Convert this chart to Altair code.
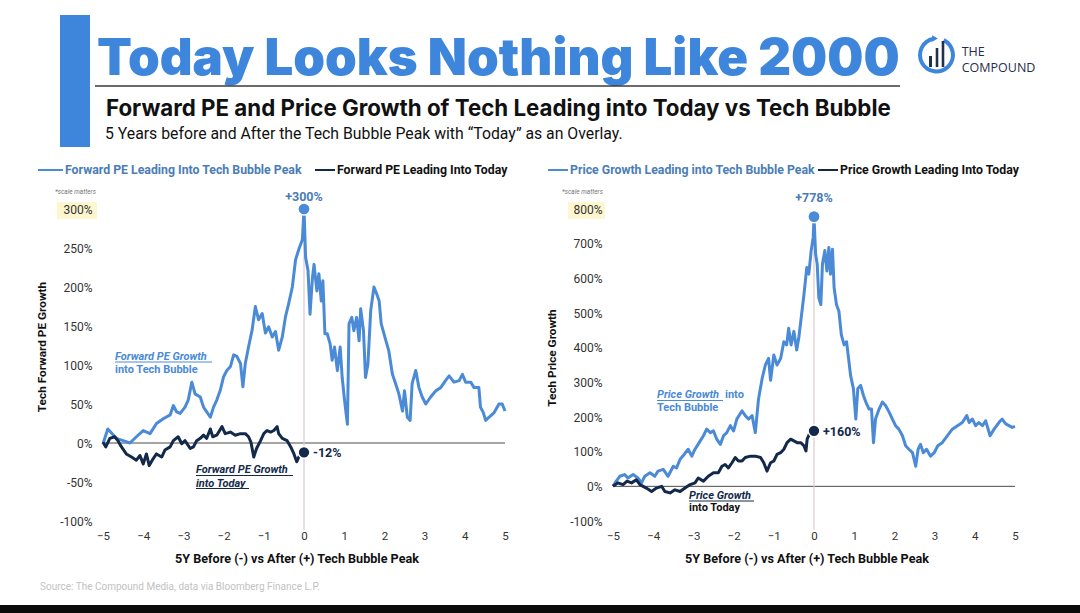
import altair as alt
import pandas as pd

# Years relative to the tech bubble peak (0) and growth in percent.
PE_BUBBLE_T = [-5.0, -4.88, -4.67, -4.5, -4.33, -4.17, -4.0, -3.83, -3.67, -3.5,
               -3.33, -3.25, -3.17, -3.08, -2.96, -2.88, -2.79, -2.71, -2.58, -2.5,
               -2.42, -2.33, -2.25, -2.17, -2.08, -2.0, -1.92, -1.83, -1.75, -1.67,
               -1.58, -1.52, -1.46, -1.38, -1.29, -1.21, -1.13, -1.04, -0.96, -0.88,
               -0.79, -0.71, -0.63, -0.54, -0.46, -0.38, -0.29, -0.21, -0.13, -0.04, 0.0,
               0.04, 0.10, 0.15, 0.21, 0.25, 0.32, 0.37, 0.43, 0.47, 0.52,
               0.58, 0.65, 0.70, 0.76, 0.83, 0.90, 0.95, 1.01, 1.08, 1.12,
               1.19, 1.24, 1.31, 1.37, 1.41, 1.48, 1.53, 1.59, 1.66, 1.74,
               1.81, 1.87, 1.92, 1.99, 2.06, 2.11, 2.20, 2.28, 2.36, 2.45,
               2.50, 2.57, 2.64, 2.69, 2.78, 2.86, 2.94, 3.03, 3.15, 3.28,
               3.40, 3.52, 3.61, 3.73, 3.86, 3.94, 4.02, 4.15, 4.23, 4.35,
               4.39, 4.46, 4.52, 4.60, 4.73, 4.85, 4.93, 5.0]
PE_BUBBLE_V = [-1, 18, 6, 3, 0, 8, 16, 12, 25, 31,
               36, 48, 40, 38, 46, 55, 78, 63, 59, 46,
               40, 33, 46, 55, 68, 85, 93, 98, 113, 111,
               102, 72, 102, 123, 145, 175, 158, 166, 141, 149,
               136, 143, 119, 136, 162, 179, 200, 235, 248, 261, 300,
               238, 221, 165, 212, 229, 195, 217, 182, 208, 140,
               140, 127, 106, 123, 93, 123, 84, 54, 24, 153,
               161, 144, 161, 131, 172, 144, 84, 101, 170, 200,
               191, 182, 153, 140, 127, 118, 88, 76, 63, 41,
               67, 33, 29, 76, 93, 71, 59, 50, 59, 67,
               71, 80, 86, 78, 80, 88, 78, 78, 71, 71,
               46, 39, 29, 33, 39, 50, 50, 41]

PE_TODAY_T = [-5.0, -4.93, -4.83, -4.71, -4.63, -4.54, -4.42, -4.29, -4.17, -4.08,
              -4.0, -3.92, -3.85, -3.75, -3.67, -3.54, -3.46, -3.33, -3.25, -3.13,
              -3.04, -2.96, -2.83, -2.75, -2.67, -2.58, -2.5, -2.42, -2.33, -2.27,
              -2.17, -2.04, -1.96, -1.83, -1.71, -1.58, -1.46, -1.38, -1.32, -1.25,
              -1.18, -1.08, -1.0, -0.92, -0.83, -0.75, -0.67, -0.63, -0.54, -0.42,
              -0.33, -0.25, -0.18, -0.13, -0.07, 0.0]
PE_TODAY_V = [1, -5, 6, 8, 3, -5, -14, -18, -22, -16,
              -27, -14, -29, -20, -14, -18, -9, -5, 3, 8,
              -1, 3, -7, -5, 3, 6, 10, 6, 18, 8,
              10, 21, 12, 14, 10, 12, 12, 8, 1, -18,
              -7, 3, 12, 16, 14, 16, 21, 12, 6, 3,
              -5, -14, -24, -18, -14, -12]

PX_BUBBLE_T = [-5.0, -4.92, -4.83, -4.71, -4.63, -4.5, -4.38, -4.29, -4.21, -4.08,
               -3.96, -3.88, -3.75, -3.63, -3.5, -3.42, -3.33, -3.23, -3.13, -3.04,
               -2.96, -2.83, -2.75, -2.67, -2.58, -2.5, -2.42, -2.33, -2.25, -2.17,
               -2.08, -2.0, -1.92, -1.79, -1.71, -1.63, -1.54, -1.46, -1.38, -1.29,
               -1.21, -1.13, -1.08, -1.0, -0.92, -0.83, -0.75, -0.68, -0.63, -0.57,
               -0.5, -0.43, -0.38, -0.32, -0.25, -0.18, -0.13, -0.07, -0.02, 0.0,
               0.04, 0.08, 0.12, 0.17, 0.21, 0.27, 0.32, 0.37, 0.41, 0.46,
               0.50, 0.56, 0.62, 0.68, 0.75, 0.81, 0.87, 0.91, 0.98, 1.04,
               1.09, 1.16, 1.23, 1.29, 1.37, 1.43, 1.48, 1.53, 1.62, 1.70,
               1.78, 1.87, 1.95, 2.03, 2.11, 2.20, 2.28, 2.36, 2.45, 2.53,
               2.59, 2.65, 2.72, 2.80, 2.90, 2.99, 3.08, 3.19, 3.32, 3.44,
               3.57, 3.69, 3.80, 3.86, 3.94, 4.02, 4.10, 4.19, 4.27, 4.38,
               4.48, 4.60, 4.68, 4.77, 4.85, 4.93, 5.0]
PX_BUBBLE_V = [0, 15, 29, 34, 24, 34, 24, 10, 29, 39,
               29, 44, 49, 29, 58, 53, 78, 92, 107, 87,
               107, 131, 146, 165, 155, 160, 136, 121, 146, 155,
               175, 160, 194, 218, 204, 194, 204, 155, 252, 311,
               350, 369, 306, 379, 350, 369, 417, 408, 456, 408,
               447, 393, 427, 485, 553, 631, 612, 680, 718, 778,
               670, 641, 544, 524, 641, 680, 621, 689, 612, 684,
               573, 524, 505, 437, 408, 417, 359, 320, 282, 194,
               282, 291, 262, 243, 223, 223, 126, 194, 223, 243,
               233, 214, 194, 175, 165, 146, 117, 107, 97, 58,
               107, 121, 97, 107, 87, 97, 117, 126, 146, 165,
               175, 184, 204, 184, 194, 175, 184, 175, 189, 146,
               165, 184, 194, 180, 175, 170, 173]

PX_TODAY_T = [-5.0, -4.88, -4.75, -4.65, -4.54, -4.42, -4.33, -4.25, -4.17, -4.04,
              -3.92, -3.79, -3.71, -3.58, -3.46, -3.33, -3.21, -3.08, -2.96, -2.88,
              -2.75, -2.63, -2.5, -2.38, -2.29, -2.21, -2.13, -2.04, -1.96, -1.88,
              -1.79, -1.71, -1.58, -1.46, -1.33, -1.25, -1.17, -1.08, -1.0, -0.92,
              -0.83, -0.75, -0.67, -0.58, -0.5, -0.42, -0.33, -0.25, -0.2, -0.17,
              -0.1, -0.04, 0.0]
PX_TODAY_V = [0, 10, 5, 15, 10, 19, 5, 0, -5, -15,
              -5, 0, -15, -19, -10, -15, -5, 5, 10, 24,
              15, 29, 39, 39, 58, 63, 53, 68, 83, 73,
              73, 83, 87, 87, 83, 68, 44, 68, 73, 92,
              97, 107, 126, 136, 131, 126, 126, 117, 102, 136,
              155, 152, 160]

PE_TICKS = [-100, -50, 0, 50, 100, 150, 200, 250, 300]
PX_TICKS = [-100, 0, 100, 200, 300, 400, 500, 600, 700, 800]
YEAR_TICKS = [-5, -4, -3, -2, -1, 0, 1, 2, 3, 4, 5]

PE_PEAK, PE_NOW = 300, -12
PX_PEAK, PX_NOW = 778, 160

# ---- styling ----
W, H = 402, 312
LIGHT = "#4a8ad6"
NAVY = "#13294b"
STEEL = "#4a7db5"
TITLE_BLUE = "#3d86dc"
BODY = "Roboto"
NARROW = "Liberation Sans Narrow, Roboto"
ONE = pd.DataFrame({"k": [0]})


def text_at(x, y, s, size, color, weight="normal", style="normal", font=BODY,
            align="left", baseline="middle", angle=0):
    return alt.Chart(ONE).mark_text(
        text=s, fontSize=size, color=color, fontWeight=weight, fontStyle=style,
        font=font, align=align, baseline=baseline, angle=angle,
    ).encode(x=alt.value(x), y=alt.value(y))


def box_at(x, x2, y, y2, color):
    return alt.Chart(ONE).mark_rect(color=color).encode(
        x=alt.value(x), x2=alt.value(x2), y=alt.value(y), y2=alt.value(y2))


def stroke_at(x, x2, y, color, width=1.0):
    return alt.Chart(ONE).mark_rule(color=color, strokeWidth=width).encode(
        x=alt.value(x), x2=alt.value(x2), y=alt.value(y))


def axes(ymax, ymin, yticks):
    xenc = alt.X("t:Q", scale=alt.Scale(domain=[-5, 5], nice=False, zero=False),
                 axis=alt.Axis(values=YEAR_TICKS, format="d", title=None, grid=False,
                               domain=False, ticks=False, tickSize=0, labelPadding=9,
                               labelFlush=False, labelFont=NARROW, labelFontSize=11.5,
                               labelColor="#333", zindex=1))
    yenc = alt.Y("v:Q", scale=alt.Scale(domain=[ymin, ymax], nice=False, zero=False),
                 axis=alt.Axis(values=yticks, labelExpr="datum.value + '%'", title=None,
                               grid=False, domain=False, ticks=False, tickSize=0,
                               labelPadding=11, labelFlush=False, labelFont=BODY,
                               labelFontSize=12, labelColor="#333", zindex=1))
    return xenc, yenc


def panel(bt, bv, tt, tv, ymin, ymax, yticks, peak, now, vline_bottom,
          peak_dy, now_dy, extra):
    X, Y = axes(ymax, ymin, yticks)
    bubble = pd.DataFrame({"t": bt, "v": bv})
    today = pd.DataFrame({"t": tt, "v": tv})
    zero = pd.DataFrame({"t": [-5], "t2": [5], "v": [0]})
    vline = pd.DataFrame({"t": [0], "v": [vline_bottom], "v2": [peak]})
    peak_pt = pd.DataFrame({"t": [0], "v": [peak], "lab": [f"+{peak}%"]})
    now_pt = pd.DataFrame({"t": [0], "v": [now],
                           "lab": [f"{now}%" if now < 0 else f"+{now}%"]})

    layers = list(extra)
    layers += [
        alt.Chart(zero).mark_rule(color="#4a4a4a", strokeWidth=1).encode(
            x=X, x2="t2:Q", y=Y),
        alt.Chart(vline).mark_rule(color="#dcc9cd", strokeWidth=1.2).encode(
            x=X, y=Y, y2="v2:Q"),
        alt.Chart(bubble).mark_line(color=LIGHT, strokeWidth=3,
                                    strokeJoin="round").encode(x=X, y=Y),
        alt.Chart(today).mark_line(color=NAVY, strokeWidth=3,
                                   strokeJoin="round").encode(x=X, y=Y),
        alt.Chart(peak_pt).mark_point(filled=True, fill=LIGHT, stroke="white",
                                      strokeWidth=1.5, size=150, opacity=1).encode(x=X, y=Y),
        alt.Chart(now_pt).mark_point(filled=True, fill=NAVY, stroke="white",
                                     strokeWidth=1.5, size=140, opacity=1).encode(x=X, y=Y),
        alt.Chart(peak_pt).mark_text(fontSize=12.5, fontWeight="bold", font=BODY,
                                     color=STEEL, dy=peak_dy).encode(x=X, y=Y, text="lab:N"),
        alt.Chart(now_pt).mark_text(fontSize=12.5, fontWeight="bold", font=BODY,
                                    color=NAVY, align="left", dx=9, dy=now_dy).encode(
            x=X, y=Y, text="lab:N"),
    ]
    return alt.layer(*layers).properties(width=W, height=H)


# ---- page furniture, placed relative to the left plot's top-left corner ----
page = [
    box_at(-103, 977, -209, 404, "white"),
    box_at(-103, 977, 396, 404, "#0b0b0b"),
    box_at(-43, -13, -194, -62, TITLE_BLUE),
    text_at(-6, -134, "Today Looks Nothing Like 2000", 50.9, TITLE_BLUE,
            weight=900, font="Inter", baseline="alphabetic"),
    stroke_at(-8, 797, -123, "#3a3a3a", 1.5),
    text_at(3, -93, "Forward PE and Price Growth of Tech Leading into Today vs Tech Bubble",
            22.3, "#111", weight="bold", font="Inter", baseline="alphabetic"),
    text_at(2, -70, "5 Years before and After the Tech Bubble Peak with \u201cToday\u201d as an Overlay.",
            15.8, "#111", baseline="alphabetic"),
    # logo
    alt.Chart(ONE).mark_arc(theta=0.45, theta2=6.1, innerRadius=14.5, outerRadius=18.5,
                            color=TITLE_BLUE).encode(x=alt.value(833.5), y=alt.value(-154)),
    alt.Chart(ONE).mark_point(shape="triangle-right", filled=True, size=45, color=TITLE_BLUE,
                              opacity=1).encode(x=alt.value(832), y=alt.value(-170.5)),
    box_at(826, 829, -153, -142, "#1f3050"),
    box_at(832.7, 835.3, -161, -142, "#1f3050"),
    box_at(838.7, 841.3, -168, -142, "#1f3050"),
    text_at(858.7, -153, "THE", 12.5, "#1f2d4a", font="Open Sans", baseline="alphabetic"),
    text_at(858.7, -137.3, "COMPOUND", 12.5, "#1f2d4a", font="Open Sans",
            baseline="alphabetic"),
    text_at(-63, 378, "Source: The Compound Media, data via Bloomberg Finance L.P.", 10,
            "#c2c2c2", font=NARROW),
]

left_extra = page + [
    stroke_at(-65, -40, -39, LIGHT, 2),
    text_at(-38, -39, "Forward PE Leading Into Tech Bubble Peak", 12.3, STEEL, weight="bold"),
    stroke_at(212, 232, -39, NAVY, 2),
    text_at(234, -39, "Forward PE Leading Into Today", 12.3, "#111", weight="bold"),
    text_at(-48, -17, "*scale matters", 6.5, "#777", style="italic"),
    box_at(-46, -6, -7, 10, "#fdf6cf"),
    text_at(-61, 138, "Tech Forward PE Growth", 11.8, "#111", weight="bold",
            align="center", angle=270),
    text_at(194, 350, "5Y Before (-) vs After (+) Tech Bubble Peak", 12.6, "#111",
            weight="bold", font=NARROW, align="center"),
    text_at(12, 147.7, "Forward PE Growth", 11, LIGHT, weight="bold", style="italic"),
    stroke_at(12, 109, 153, LIGHT, 1),
    text_at(12, 161, "into Tech Bubble", 11, LIGHT, weight="bold"),
    text_at(93, 261, "Forward PE Growth", 11, NAVY, weight="bold", style="italic"),
    stroke_at(93, 190, 266.5, NAVY, 1),
    text_at(93, 275, "into Today", 11, NAVY, weight="bold", style="italic"),
    stroke_at(93, 146, 279.5, NAVY, 1),
]

right_extra = [
    stroke_at(-65, -45, -39, LIGHT, 2),
    text_at(-43, -39, "Price Growth Leading into Tech Bubble Peak", 12.3, STEEL, weight="bold"),
    stroke_at(205, 225, -39, NAVY, 2),
    text_at(227, -39, "Price Growth Leading Into Today", 12.3, "#111", weight="bold"),
    text_at(-51, -17, "*scale matters", 6.5, "#777", style="italic"),
    box_at(-45, -8, -7, 10, "#fdf6cf"),
    text_at(-61, 149, "Tech Price Growth", 11.8, "#111", weight="bold",
            align="center", angle=270),
    text_at(194, 350, "5Y Before (-) vs After (+) Tech Bubble Peak", 12.6, "#111",
            weight="bold", font=NARROW, align="center"),
    text_at(44, 186, "Price Growth", 11, LIGHT, weight="bold", style="italic"),
    stroke_at(44, 110, 191.5, LIGHT, 1),
    text_at(112, 186, "into", 11, LIGHT, weight="bold"),
    text_at(44, 198.7, "Tech Bubble", 11, LIGHT, weight="bold"),
    text_at(76, 287, "Price Growth", 11, NAVY, weight="bold", style="italic"),
    stroke_at(76, 141, 292, NAVY, 1),
    text_at(76, 299.3, "into Today", 11, "#111", weight="bold"),
]

left = panel(PE_BUBBLE_T, PE_BUBBLE_V, PE_TODAY_T, PE_TODAY_V, -100, 300, PE_TICKS,
             PE_PEAK, PE_NOW, -112, -12, 1, left_extra)
right = panel(PX_BUBBLE_T, PX_BUBBLE_V, PX_TODAY_T, PX_TODAY_V, -100, 800, PX_TICKS,
              PX_PEAK, PX_NOW, -125, -19, 1.5, right_extra)

chart = alt.hconcat(left, right, spacing=108, bounds="flush").properties(
    padding=0, background="white"
).configure_view(stroke=None)

chart.save("out.html", embed_options={"renderer": "svg", "actions": False})
